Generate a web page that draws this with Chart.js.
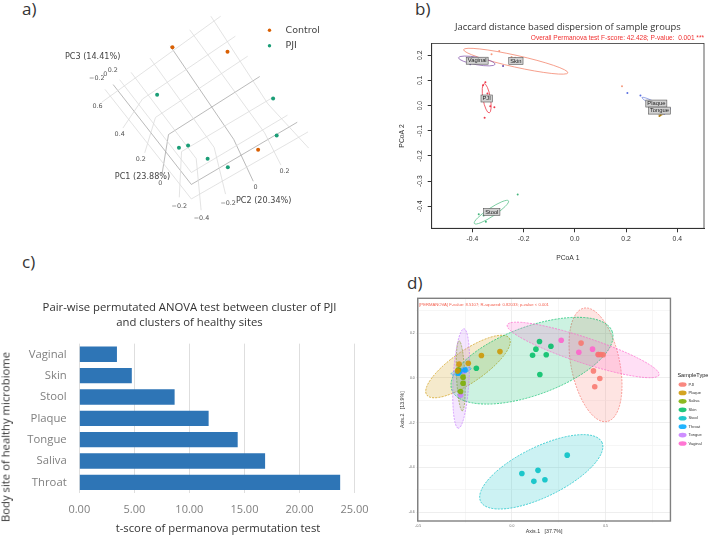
<!DOCTYPE html>
<html><head><meta charset="utf-8">
<script src="https://cdn.jsdelivr.net/npm/chart.js@4"></script>
<style>
html,body{margin:0;padding:0;background:#fff;width:708px;height:535px;overflow:hidden}
canvas{position:absolute}
#a,#b,#d{filter:blur(.3px)}
.t{position:absolute;white-space:nowrap;font-family:"Open Sans",sans-serif;color:#333}
</style></head><body>
<div class="t" style="left:22px;top:-3px;font-size:17px">a)</div>
<div class="t" style="left:415px;top:-3px;font-size:17px">b)</div>
<div class="t" style="left:22px;top:250px;font-size:17px">c)</div>
<div class="t" style="left:407px;top:271px;font-size:17px">d)</div>
<canvas id="a" width="354" height="240" style="left:0;top:0"></canvas>
<canvas id="b" width="312" height="249" style="left:396px;top:16px"></canvas>
<canvas id="c" width="379" height="245" style="left:0;top:290px"></canvas>
<canvas id="d" width="313" height="245" style="left:395px;top:290px"></canvas>
<div class="t" style="left:5px;top:436.7px;font-size:11.3px;transform:translate(-50%,-50%) rotate(-90deg)">Body site of healthy microbiome</div>
<div class="t" style="left:218px;top:527.3px;font-size:11.3px;transform:translate(-50%,-50%)">t-score of permanova permutation test</div>
<script>
/* ---------- panel a: projected 3-D PCoA scene ---------- */
const aControl=[[517,134],[686,148],[780,452]];
const aPJI=[[470,282],[826,293],[837,408],[565,439],[537,446],[625,480],[687,507]];
const aGrid=[
 [[300,305],[665,38]],
 [[365,385],[425,295],[710,100]],
 [[432,462],[465,352],[748,162]],
 [[538,600],[545,458],[825,290]],
 [[310,265],[575,605],[933,397]],
 [[355,235],[575,523],[870,345]],
 [[605,640],[590,480],[390,212]],
 [[680,590],[645,445],[448,168]],
 [[850,500],[800,400],[570,80]],
 [[935,447],[810,310],[635,38]]];
const aGridDark=[
 [[485,528],[505,405],[785,225]],
 [[335,250],[575,560],[900,367]],
 [[765,550],[705,420],[510,130]]];
const aTickLabels=[["0.6",287,317],["0.4",355,403],["0.2",420,483],["0",480,558],["\u22120.2",538,628],["\u22120.4",606,665],
 ["\u22120.2",285,232],["0",311,218],["0.2",334,207],["\u22120.2",688,618],["0",772,570],["0.2",861,520]];
const aAxisLabels=[["PC3 (14.41%)",272,163],["PC1 (23.88%)",425,538],["PC2 (20.34%)",797,610]];
/* ---------- panel b: Jaccard PCoA ---------- */
const bSkin=[[-.295,.217],[-.325,.204],[-.247,.193],[-.233,.19],[.184,.077]];
const bVaginal=[[-.408,.164],[-.28,.157],[-.398,.19],[-.36,.18]];
const bPJI=[[-.349,.093],[-.358,.081],[-.341,.048],[-.314,-.007],[-.33,-.003],[-.352,-.048]];
const bStool=[[-.223,-.353],[-.375,-.431],[-.356,-.436],[-.347,-.461],[-.327,-.418]];
const bPlaque=[[.205,.05],[.256,.04],[.37,-.013],[.31,.008],[.349,-.032]];
const bTongue=[[.33,-.041],[.335,-.038]];
const bXTicks=[-.4,-.2,0,.2,.4];
const bYTicks=[-.4,-.3,-.2,-.1,0,.1,.2];
const bEllipses=[
 [-.434,.222,-.027,.130,.11,"#f4866e"],
 [-.454,.190,-.311,.164,.2,"#8b5fb0"],
 [-.354,.087,-.334,-.029,.25,"#ee3a4a"],
 [-.392,-.468,-.259,-.378,.2,"#5cc28c"],
 [.262,.032,.356,-.016,.14,"#7d8fe0"],
 [.30,-.018,.345,-.035,.2,"#b5913a"]];
const bBoxes=[["Vaginal",-.381,.178],["Skin",-.23,.177],["PJI",-.344,.028],["Plaque",.318,.008],["Tongue",.33,-.02],["Stool",-.324,-.422]];
/* ---------- panel c: pair-wise t-scores ---------- */
const cSites=["Vaginal","Skin","Stool","Plaque","Tongue","Saliva","Throat"];
const cScores=[3.42,4.77,8.66,11.75,14.39,16.88,23.7];
const cTicks=[0,5,10,15,20,25];
/* ---------- panel d: PCoA by SampleType ---------- */
const dTypes=["PJI","Plaque","Saliva","Skin","Stool","Throat","Tongue","Vaginal"];
const dColors=["#F8766D","#CD9600","#7CAE00","#00BE67","#00BFC4","#00A9FF","#C77CFF","#FF61CC"];
const dPJI=[[.435,.031],[.469,-.003],[.442,-.04],[.369,.155],[.46,.104],[.487,.103],[.474,.104]];
const dPlaque=[[-.064,.117],[-.163,.1],[-.233,.065],[-.282,.061],[-.29,.03]];
const dSaliva=[[-.261,.003],[-.261,-.024],[-.274,-.061],[-.286,.036]];
const dSkin=[[.11,.101],[.128,.128],[.147,.162],[.208,.141],[.183,.103],[.149,.015],[-.19,.043]];
const dStool=[[.295,-.345],[.139,-.413],[.053,-.427],[.117,-.462],[.176,-.455]];
const dThroat=[[-.286,.021],[-.277,.031],[-.25,.035]];
const dTongue=[[-.274,-.077],[-.256,.031],[-.28,.03]];
const dVaginal=[[.263,.168],[.357,.114],[.43,.128],[.462,.104]];
const dEllipses=[
 [.384,.311,.508,-.195,.42],
 [-.455,-.076,-.014,.177,.32],
 [-.282,.165,-.265,-.147,.12],
 [-.321,-.054,.535,.207,.40],
 [-.167,-.552,.48,-.287,.37],
 [-.325,.016,-.218,.043,.25],
 [-.256,.219,-.286,-.225,.16],
 [-.025,.236,.785,.013,.16]];
const dXTicks=[-.5,-.25,0,.25,.5,.75];
const dXLabelled=[-.5,0,.5];
const dYTicks=[-.6,-.5,-.4,-.3,-.2,-.1,0,.1,.2,.3];
const dYLabelled=[-.6,-.4,-.2,0,.2];

const pts=a=>a.map(p=>({x:p[0],y:p[1]}));
const sans='"Liberation Sans",Arial,sans-serif';
const dj='"DejaVu Sans",sans-serif';
const os='"Open Sans",sans-serif';
const base={responsive:false,animation:false,events:[]};

function ellipse(ch,e,stroke,fill,dash){
  const X=ch.scales.x,Y=ch.scales.y,c=ch.ctx;
  const x1=X.getPixelForValue(e[0]),y1=Y.getPixelForValue(e[1]),x2=X.getPixelForValue(e[2]),y2=Y.getPixelForValue(e[3]);
  const A=Math.hypot(x2-x1,y2-y1)/2;
  c.save();c.beginPath();
  c.ellipse((x1+x2)/2,(y1+y2)/2,A,A*e[4],Math.atan2(y2-y1,x2-x1),0,2*Math.PI);
  if(fill){c.fillStyle=fill;c.fill();}
  c.setLineDash(dash||[]);c.lineWidth=dash?.7:.8;c.strokeStyle=stroke;c.stroke();c.restore();
}
const frame=(color,w)=>({id:'frame',afterDatasetsDraw(ch){const a=ch.chartArea,c=ch.ctx;c.save();c.strokeStyle=color;c.lineWidth=w;c.strokeRect(a.left,a.top,a.right-a.left,a.bottom-a.top);c.restore();}});

/* panel a */
new Chart(document.getElementById('a'),{type:'scatter',data:{datasets:[
  {label:'Control',data:pts(aControl),backgroundColor:'#D95F02',pointRadius:2,borderWidth:0},
  {label:'PJI',data:pts(aPJI),backgroundColor:'#1B9E77',pointRadius:2,borderWidth:0},
  ...aGrid.map(g=>({data:pts(g),showLine:true,pointRadius:0,borderColor:'#dcdcdc',borderWidth:.8})),
  ...aGridDark.map(g=>({data:pts(g),showLine:true,pointRadius:0,borderColor:'#a8a8a8',borderWidth:.8}))
]},options:{...base,layout:{padding:0},
  scales:{x:{display:false,min:0,max:1062},y:{display:false,min:0,max:720,reverse:true}},
  plugins:{legend:{display:false},tooltip:{enabled:false},title:{display:false}}},
  plugins:[{id:'aText',afterDatasetsDraw(ch){
    const c=ch.ctx,X=ch.scales.x,Y=ch.scales.y;c.save();c.textAlign='center';c.textBaseline='middle';
    c.fillStyle='#555';c.font='6.4px '+dj;
    aTickLabels.forEach(l=>c.fillText(l[0],X.getPixelForValue(l[1]),Y.getPixelForValue(l[2])));
    c.fillStyle='#444';c.font='8.1px '+dj;
    aAxisLabels.forEach(l=>c.fillText(l[0],X.getPixelForValue(l[1]),Y.getPixelForValue(l[2])));
    c.textAlign='left';c.font='9.5px '+dj;
    ch.data.datasets.slice(0,2).forEach((d,i)=>{
      const y=30.3+i*15.4;c.fillStyle=d.backgroundColor;c.beginPath();c.arc(269.5,y,1.7,0,7);c.fill();
      c.fillStyle='#444';c.fillText(d.label,285.5,y);
    });c.restore();}}]
});

/* panel b */
const bSeries=[[bSkin,'#f59a7e'],[bVaginal,'#6a4aa8'],[bPJI,'#ee3a4a'],[bStool,'#45b57c'],[bPlaque,'#5a6fe0'],[bTongue,'#a87a10']];
new Chart(document.getElementById('b'),{type:'scatter',data:{datasets:bSeries.map(s=>({data:pts(s[0]),backgroundColor:s[1],pointRadius:1,borderWidth:0}))},
 options:{...base,layout:{padding:{right:1.3}},
  scales:{
   x:{min:-.5585,max:.504,afterBuildTicks:s=>{s.ticks=bXTicks.map(v=>({value:v}))},afterFit:s=>{s.height=36.7},
      grid:{drawOnChartArea:false,color:'#333',tickLength:4},border:{color:'#333'},
      ticks:{autoSkip:false,maxRotation:0,padding:3,color:'#333',font:{family:sans,size:6.8},callback:v=>v.toFixed(1)},
      title:{display:true,text:'PCoA 1',color:'#333',font:{family:sans,size:6.8},padding:{top:0,bottom:3}}},
   y:{min:-.487,max:.246,afterBuildTicks:s=>{s.ticks=bYTicks.map(v=>({value:v}))},afterFit:s=>{s.width=35.7},
      grid:{drawOnChartArea:false,color:'#333',tickLength:4},border:{color:'#333'},
      ticks:{autoSkip:false,minRotation:90,maxRotation:90,crossAlign:'center',padding:2,color:'#333',font:{family:sans,size:6.8},callback:v=>v.toFixed(1)},
      title:{display:true,text:'PCoA 2',color:'#333',font:{family:sans,size:6.8},padding:{top:2,bottom:0}}}},
  plugins:{legend:{display:false},tooltip:{enabled:false},
   title:{display:true,fullSize:false,text:'Jaccard distance based dispersion of sample groups',color:'#333',font:{family:os,size:9.4,weight:'normal'},padding:{top:5.35,bottom:0}},
   subtitle:{display:true,fullSize:false,align:'end',text:'Overall Permanova test F-score: 42.428; P-value:  0.001 ***',color:'#f03030',font:{family:sans,size:6.55},padding:{top:1.72,bottom:1.37}}}},
 plugins:[frame('#333',.8),{id:'bBoxes',afterDatasetsDraw(ch){
    const c=ch.ctx,X=ch.scales.x,Y=ch.scales.y;
    bEllipses.forEach(e=>ellipse(ch,e,e[5]));
    c.save();c.font='5.8px '+sans;c.textAlign='center';c.textBaseline='middle';
    bBoxes.forEach(l=>{const x=X.getPixelForValue(l[1]),y=Y.getPixelForValue(l[2]),w=c.measureText(l[0]).width+3,h=7;
      c.fillStyle='#d0d0d0';c.strokeStyle='#555';c.lineWidth=.6;c.fillRect(x-w/2,y-h/2,w,h);c.strokeRect(x-w/2,y-h/2,w,h);
      c.fillStyle='#222';c.fillText(l[0],x,y);});
    c.restore();}}]
});

/* panel c */
new Chart(document.getElementById('c'),{type:'bar',data:{labels:cSites,datasets:[{data:cScores,backgroundColor:'#2e75b6',barPercentage:.72,categoryPercentage:1}]},
 options:{...base,indexAxis:'y',layout:{padding:0},
  scales:{
   x:{min:0,max:26.95,afterBuildTicks:s=>{s.ticks=cTicks.map(v=>({value:v}))},afterFit:s=>{s.height=42},grid:{color:'#dedede',drawTicks:false},border:{display:false},
      ticks:{autoSkip:false,padding:10.5,maxRotation:0,color:'#7f7f7f',font:{family:os,size:11},callback:v=>v.toFixed(2)}},
   y:{afterFit:s=>{s.width=79.3},grid:{display:false,drawTicks:false},border:{display:false},
      ticks:{padding:12.6,color:'#7f7f7f',font:{family:os,size:11.3}}}},
  plugins:{legend:{display:false},tooltip:{enabled:false},
   title:{display:true,text:['Pair-wise permutated ANOVA test between cluster of PJI','and clusters of healthy sites'],color:'#333',font:{family:os,size:11.3,weight:'normal',lineHeight:1.36},padding:{top:9.6,bottom:13.3}}}}
});

/* panel d */
const dData=[dPJI,dPlaque,dSaliva,dSkin,dStool,dThroat,dTongue,dVaginal];
new Chart(document.getElementById('d'),{type:'scatter',data:{datasets:dTypes.map((n,i)=>({label:n,data:pts(dData[i]),backgroundColor:dColors[i]+'dd',pointRadius:2.8,borderWidth:0}))},
 options:{...base,layout:{padding:{top:8.3}},
  scales:{
   x:{min:-.503,max:.846,afterBuildTicks:s=>{s.ticks=dXTicks.map(v=>({value:v}))},afterFit:s=>{s.height=14},
      grid:{color:c=>dXLabelled.includes(c.tick.value)?'#e6e6e6':'#f2f2f2',tickLength:1.5,lineWidth:.7},border:{display:false},
      ticks:{autoSkip:false,maxRotation:0,padding:1.5,color:'#666',font:{family:sans,size:3.4},callback:v=>dXLabelled.includes(v)?v.toFixed(1):''},
      title:{display:true,text:'Axis.1   [37.7%]',color:'#333',font:{family:sans,size:5.3},padding:{top:0,bottom:0}}},
   y:{min:-.639,max:.355,afterBuildTicks:s=>{s.ticks=dYTicks.map(v=>({value:v}))},afterFit:s=>{s.width=22.7},
      grid:{color:c=>dYLabelled.includes(c.tick.value)?'#e6e6e6':'#f2f2f2',tickLength:1.5,lineWidth:.7},border:{display:false},
      ticks:{autoSkip:false,padding:1.5,color:'#666',font:{family:sans,size:3.4},callback:v=>dYLabelled.includes(v)?v.toFixed(1):''},
      title:{display:true,text:'Axis.2   [13.9%]',color:'#333',font:{family:sans,size:5.3},padding:{top:4,bottom:0}}}},
  plugins:{tooltip:{enabled:false},
   legend:{position:'right',align:'center',title:{display:true,text:'SampleType',position:'center',color:'#222',font:{family:sans,size:5.6},padding:{top:0,bottom:-1}},
     labels:{usePointStyle:true,boxHeight:3.3,pointStyleWidth:8,padding:4.43,color:'#333',font:{family:sans,size:4}}}}},
 plugins:[frame('#808080',1.4),
  {id:'dLegendShift',afterLayout(ch){const l=ch.legend;l.left+=3.7;l.right+=3.7;l.top-=5.5;l.bottom-=5.5;}},
  {id:'dEll',beforeDatasetsDraw(ch){dEllipses.forEach((e,i)=>ellipse(ch,e,dColors[i],dColors[i]+'33',[2,1.2]));},
   afterDatasetsDraw(ch){const c=ch.ctx,a=ch.chartArea;c.save();c.font='4.2px '+sans;c.fillStyle='#f4604f';c.textBaseline='middle';
     c.fillText('[PERMANOVA] F-value: 8.5107; R-squared: 0.82033; p-value < 0.001',a.left+1.5,a.top+6.7);c.restore();}}]
});
</script>
</body></html>
